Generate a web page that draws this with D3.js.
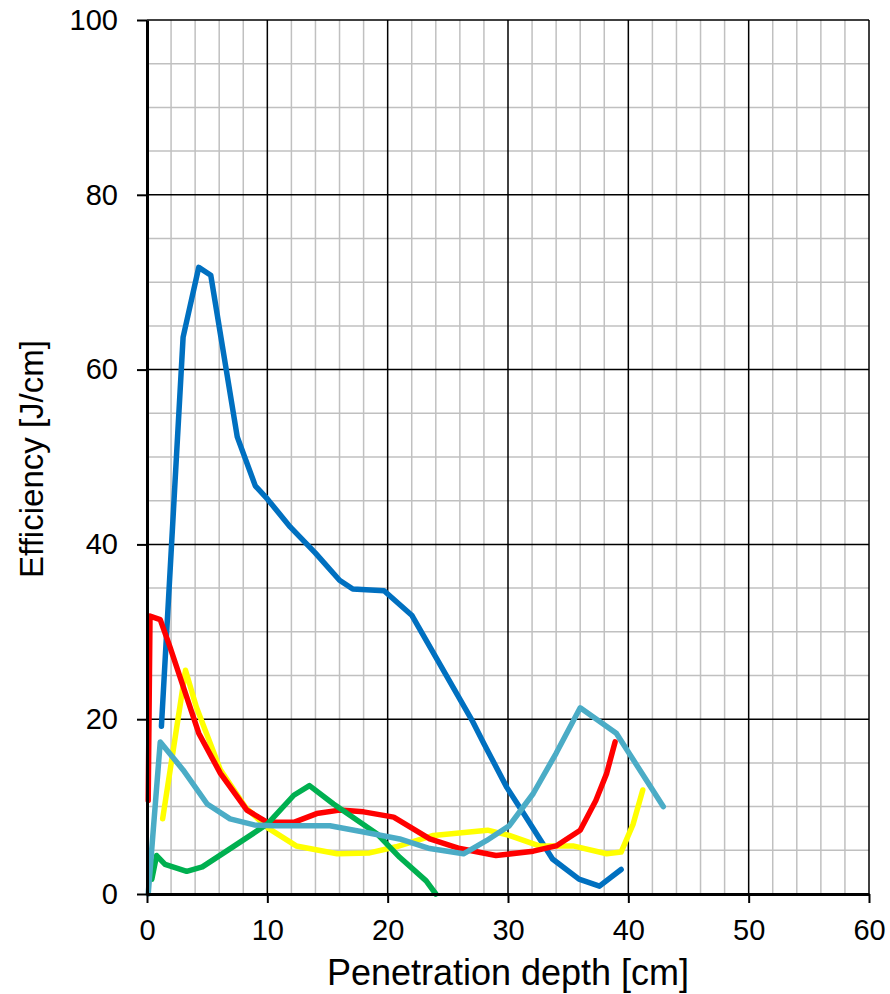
<!DOCTYPE html>
<html>
<head>
<meta charset="utf-8">
<script src="https://cdn.jsdelivr.net/npm/d3@7"></script>
<style>
  html, body { margin: 0; padding: 0; background: #fff; }
  svg { display: block; font-family: "Liberation Sans", Arial, sans-serif; }
</style>
</head>
<body>
<svg id="chart" width="890" height="994"></svg>
<script>
// Penetration depth [cm] vs. efficiency [J/cm] for five series
const blueX   = [1.2, 3.0, 4.3, 5.3, 7.5, 9.0, 10.0, 11.9, 14.0, 16.0, 17.1, 19.7, 22.0, 24.0, 27.0, 28.0, 29.9, 31.3, 33.7, 35.9, 37.6, 39.4];
const blueY   = [19.2, 63.7, 71.7, 70.8, 52.3, 46.7, 45.2, 42.0, 39.0, 35.9, 34.9, 34.7, 31.9, 27.1, 19.9, 17.2, 12.2, 9.2, 4.0, 1.7, 0.9, 2.8];

const redX    = [0.1, 0.25, 1.1, 1.9, 4.3, 6.1, 8.3, 10.0, 12.2, 14.1, 16.0, 18.0, 20.5, 23.5, 26.0, 29.0, 32.1, 34.0, 36.0, 37.3, 38.2, 38.9];
const redY    = [10.7, 31.8, 31.4, 28.3, 18.4, 13.8, 9.6, 8.2, 8.2, 9.2, 9.6, 9.4, 8.8, 6.3, 5.2, 4.4, 4.9, 5.5, 7.3, 10.7, 13.8, 17.4];

const yellowX = [1.3, 3.2, 4.1, 6.1, 8.2, 10.0, 12.4, 15.8, 18.5, 20.7, 23.8, 28.3, 30.1, 32.6, 35.4, 38.2, 39.4, 40.4, 41.2];
const yellowY = [8.6, 25.6, 21.4, 14.2, 9.9, 7.6, 5.5, 4.6, 4.7, 5.4, 6.7, 7.3, 6.7, 5.5, 5.5, 4.6, 4.8, 8.0, 11.9];

const greenX  = [0.4, 0.8, 1.5, 3.3, 4.6, 6.6, 10.0, 12.2, 13.5, 15.5, 19.1, 21.0, 23.2, 24.0];
const greenY  = [1.7, 4.4, 3.4, 2.6, 3.1, 4.9, 8.0, 11.3, 12.4, 10.3, 6.9, 4.2, 1.5, 0.0];

const tealX   = [0.1, 1.1, 3.0, 5.0, 6.9, 8.9, 10.5, 15.2, 18.0, 21.0, 23.5, 26.3, 28.2, 30.1, 32.1, 34.0, 36.0, 39.0, 42.9];
const tealY   = [0.0, 17.4, 14.2, 10.3, 8.6, 7.9, 7.8, 7.8, 7.1, 6.3, 5.2, 4.6, 6.1, 7.8, 11.5, 16.1, 21.3, 18.4, 10.0];

const xTicks = [0, 10, 20, 30, 40, 50, 60];
const yTicks = [0, 20, 40, 60, 80, 100];
const xTitle = "Penetration depth [cm]";
const yTitle = "Efficiency [J/cm]";

const series = [
  { xs: blueX,   ys: blueY,   color: "#0070C0" },
  { xs: yellowX, ys: yellowY, color: "#FFFF00" },
  { xs: redX,    ys: redY,    color: "#FF0000" },
  { xs: greenX,  ys: greenY,  color: "#00B050" },
  { xs: tealX,   ys: tealY,   color: "#4BACC6" }
];

const svg = d3.select("#chart");
const x = d3.scaleLinear().domain([0, 60]).range([147, 869]);
const y = d3.scaleLinear().domain([0, 100]).range([894, 20]);

svg.append("rect").attr("width", 890).attr("height", 994).attr("fill", "#fff");

// minor grid
const grid = svg.append("g");
grid.selectAll(".vminor")
  .data(d3.range(2, 60, 2).filter(v => v % 10 !== 0))
  .join("line")
  .attr("x1", d => x(d)).attr("x2", d => x(d))
  .attr("y1", y(0)).attr("y2", y(100))
  .attr("stroke", "#c0c0c0").attr("stroke-width", 1.5);
grid.selectAll(".hminor")
  .data(d3.range(5, 100, 5).filter(v => v % 20 !== 0))
  .join("line")
  .attr("x1", x(0)).attr("x2", x(60))
  .attr("y1", d => y(d)).attr("y2", d => y(d))
  .attr("stroke", "#c0c0c0").attr("stroke-width", 1.5);

// major grid
grid.selectAll(".vmajor")
  .data(xTicks.filter(v => v > 0))
  .join("line")
  .attr("x1", d => x(d)).attr("x2", d => x(d))
  .attr("y1", y(0)).attr("y2", y(100))
  .attr("stroke", "#000").attr("stroke-width", 1.5);
grid.selectAll(".hmajor")
  .data(yTicks.filter(v => v > 0))
  .join("line")
  .attr("x1", x(0)).attr("x2", x(60))
  .attr("y1", d => y(d)).attr("y2", d => y(d))
  .attr("stroke", "#000").attr("stroke-width", 1.5);

// series lines
const line = d3.line().x(d => x(d[0])).y(d => y(d[1]));
svg.append("g").selectAll("path")
  .data(series)
  .join("path")
  .attr("d", s => line(s.xs.map((v, i) => [v, s.ys[i]])))
  .attr("fill", "none")
  .attr("stroke", s => s.color)
  .attr("stroke-width", 5.5)
  .attr("stroke-linejoin", "round")
  .attr("stroke-linecap", "round");

// axes
const yAxis = svg.append("g")
  .attr("transform", `translate(${x(0)},0)`)
  .call(d3.axisLeft(y).tickValues(yTicks).tickSize(10).tickPadding(19).tickSizeOuter(0));
const xAxis = svg.append("g")
  .attr("transform", `translate(0,${y(0)})`)
  .call(d3.axisBottom(x).tickValues(xTicks).tickSize(9).tickPadding(16).tickSizeOuter(0));

[xAxis, yAxis].forEach(g => {
  g.select(".domain").attr("stroke", "#000").attr("stroke-width", 3);
  g.selectAll(".tick line").attr("stroke", "#000").attr("stroke-width", 2);
  g.selectAll(".tick text")
    .attr("fill", "#000")
    .style("font-family", '"Liberation Sans", Arial, sans-serif')
    .style("font-size", "29px");
});

// axis titles
svg.append("text")
  .attr("x", 508).attr("y", 985)
  .attr("text-anchor", "middle")
  .style("font-size", "36px")
  .attr("fill", "#000")
  .text(xTitle);
svg.append("text")
  .attr("transform", "translate(43,459) rotate(-90)")
  .attr("text-anchor", "middle")
  .style("font-size", "33px")
  .attr("fill", "#000")
  .text(yTitle);
</script>
</body>
</html>
